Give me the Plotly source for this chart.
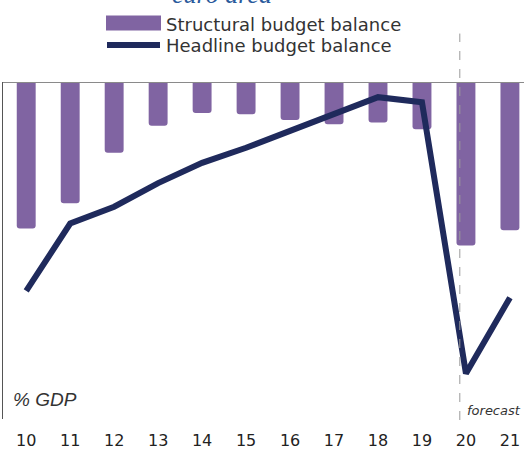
import plotly.graph_objects as go

years = ["10", "11", "12", "13", "14", "15", "16", "17", "18", "19", "20", "21"]
structural = [-4.35, -3.6, -2.1, -1.3, -0.92, -0.96, -1.13, -1.25, -1.2, -1.4, -4.85, -4.4]
headline = [-6.2, -4.2, -3.7, -3.0, -2.4, -1.95, -1.45, -0.95, -0.45, -0.6, -8.65, -6.4]

BAR_C = "#8064a2"
LINE_C = "#1f2a5c"

# pixel helpers for paper coordinates (layout furniture only)
L, R, T, B, W, H = 3, 0, 81.5, 31, 524, 450
PW, PH = W - L - R, H - T - B
def px(x):
    return (x - L) / PW
def py(y):
    return (H - B - y) / PH

fig = go.Figure()
fig.add_trace(go.Bar(x=years, y=structural, marker=dict(color=BAR_C, cornerradius=3, line=dict(width=0)),
                     name="Structural budget balance"))
fig.add_trace(go.Scatter(x=years, y=headline, mode="lines", line=dict(color=LINE_C, width=6),
                         name="Headline budget balance"))

shapes = [
    dict(type="line", xref="paper", yref="y", x0=0, x1=1, y0=0, y1=0, line=dict(color="#8a8a8a", width=2)),
    dict(type="line", xref="x", yref="paper", x0=9.86, x1=9.86, y0=-0.003, y1=py(33),
         line=dict(color="#9a9a9a", width=1, dash="dash")),
    dict(type="rect", xref="paper", yref="paper", x0=px(106), x1=px(161), y0=py(30), y1=py(15),
         fillcolor=BAR_C, line=dict(width=0)),
    dict(type="line", xref="paper", yref="paper", x0=px(107), x1=px(160), y0=py(44.5), y1=py(44.5),
         line=dict(color=LINE_C, width=6)),
]

annotations = [
    dict(text="<i>euro area</i>", xref="paper", yref="paper", x=px(221.5), y=py(-6.5), xanchor="center",
         yanchor="middle", showarrow=False, font=dict(family="Liberation Serif", size=26, color="#2a5a9c")),
    dict(text="Structural budget balance", xref="paper", yref="paper", x=px(164), y=py(23.7), xanchor="left",
         yanchor="middle", showarrow=False, font=dict(family="DejaVu Sans", size=18, color="#333333")),
    dict(text="Headline budget balance", xref="paper", yref="paper", x=px(164), y=py(44.5), xanchor="left",
         yanchor="middle", showarrow=False, font=dict(family="DejaVu Sans", size=18, color="#333333")),
    dict(text="<i>% GDP</i>", xref="paper", yref="paper", x=px(11), y=py(399), xanchor="left",
         yanchor="middle", showarrow=False, font=dict(family="Liberation Sans", size=19, color="#333333")),
    dict(text="<i>forecast</i>", xref="paper", yref="paper", x=px(523), y=py(410), xanchor="right",
         yanchor="middle", showarrow=False, font=dict(family="DejaVu Sans", size=13, color="#333333")),
]

fig.update_layout(
    width=W, height=H, margin=dict(l=L, r=R, t=T, b=B, autoexpand=False),
    paper_bgcolor="white", plot_bgcolor="white", showlegend=False, bargap=0.57,
    shapes=shapes, annotations=annotations,
    xaxis=dict(type="category", range=[-0.528, 11.32], showgrid=False, showline=False, zeroline=False,
               ticks="", ticklabelstandoff=10, tickfont=dict(family="DejaVu Sans", size=16, color="#222222")),
    yaxis=dict(range=[-10, 0], showgrid=False, zeroline=False, showticklabels=False, ticks="",
               showline=True, linecolor="#555555", linewidth=1),
)
fig.write_html("out.html", config={"displayModeBar": False},
               post_script="document.body.style.margin='0';document.body.style.overflow='hidden';")
